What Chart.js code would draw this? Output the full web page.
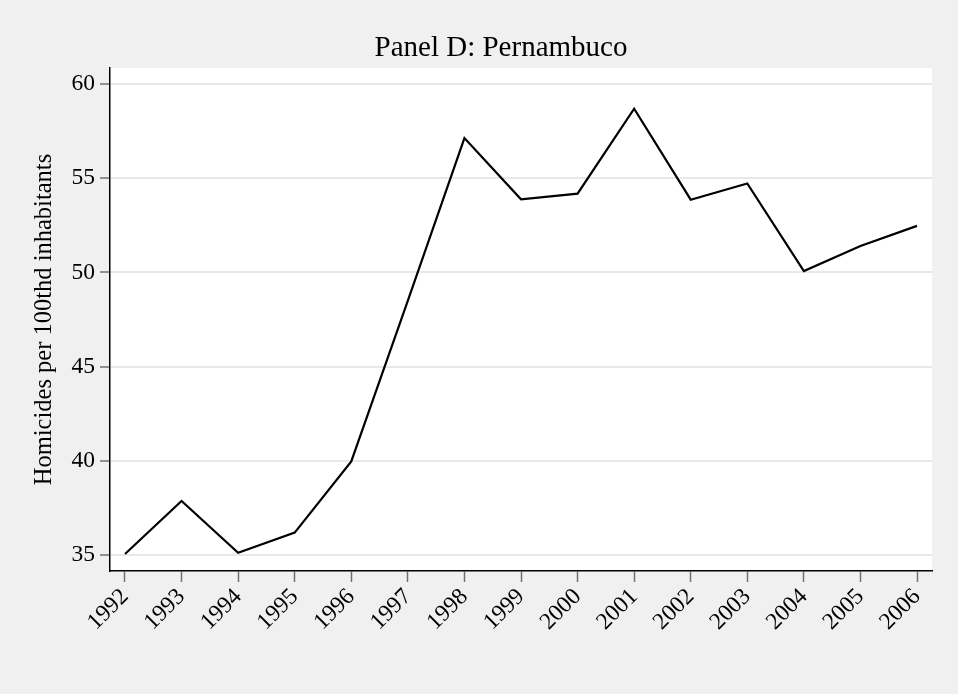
<!DOCTYPE html>
<html>
<head>
<meta charset="utf-8">
<script src="https://cdn.jsdelivr.net/npm/chart.js@4.4.0/dist/chart.umd.min.js"></script>
<style>
  html, body { margin: 0; padding: 0; background: #f0f0f0; }
  #wrap { width: 958px; height: 694px; }
</style>
</head>
<body>
<div id="wrap"><canvas id="chart"></canvas></div>
<script>
// data
const years = [1992, 1993, 1994, 1995, 1996, 1997, 1998, 1999, 2000, 2001, 2002, 2003, 2004, 2005, 2006];
const homicides = [35.05, 37.87, 35.12, 36.19, 39.97, 48.5, 57.13, 53.88, 54.18, 58.69, 53.86, 54.72, 50.07, 51.40, 52.47];
const yTicks = [35, 40, 45, 50, 55, 60];
const chartTitle = 'Panel D: Pernambuco';
const yTitle = 'Homicides per 100thd inhabitants';

const serif = '"Liberation Serif", "Times New Roman", serif';

// gray page, white plot region, title on top
const stataBg = {
    id: 'stataBg',
    beforeDraw(chart) {
        const ctx = chart.ctx;
        const a = chart.chartArea;
        ctx.save();
        ctx.fillStyle = '#f0f0f0';
        ctx.fillRect(0, 0, chart.width, chart.height);
        ctx.fillStyle = '#ffffff';
        ctx.fillRect(a.left, a.top, a.right - a.left, a.bottom - a.top);
        ctx.restore();
    },
    afterDraw(chart) {
        const ctx = chart.ctx;
        ctx.save();
        ctx.fillStyle = '#000';
        ctx.font = '29px ' + serif;
        ctx.textAlign = 'center';
        ctx.textBaseline = 'alphabetic';
        ctx.fillText(chartTitle, 501, 56);
        ctx.restore();
    }
};

new Chart(document.getElementById('chart'), {
    type: 'line',
    data: {
        datasets: [{
            label: 'Pernambuco',
            data: years.map((y, i) => ({ x: y, y: homicides[i] })),
            borderColor: '#000',
            borderWidth: 2.2,
            pointRadius: 0,
            tension: 0,
            fill: false
        }]
    },
    options: {
        responsive: true,
        maintainAspectRatio: false,
        animation: false,
        layout: { padding: { top: 68, right: 26, left: 0, bottom: 0 } },
        plugins: {
            legend: { display: false },
            tooltip: { enabled: false }
        },
        scales: {
            x: {
                type: 'linear',
                min: 1991.735,
                max: 2006.265,
                afterBuildTicks: s => { s.ticks = years.map(v => ({ value: v })); },
                afterFit: s => { s.height = 123; },
                border: { color: '#000', width: 1.5 },
                grid: { drawOnChartArea: false, tickColor: '#707070', tickLength: 11, tickWidth: 1.5 },
                ticks: {
                    color: '#000',
                    font: { family: serif, size: 23.5 },
                    minRotation: 45,
                    maxRotation: 45,
                    padding: 1,
                    callback: v => String(v)
                }
            },
            y: {
                min: 34.15,
                max: 60.85,
                afterBuildTicks: s => { s.ticks = yTicks.map(v => ({ value: v })); },
                afterFit: s => { s.width = 110; },
                border: { color: '#000', width: 1.5 },
                grid: { color: '#e8e8e8', lineWidth: 2, tickColor: '#707070', tickLength: 10, tickWidth: 1.5 },
                ticks: {
                    color: '#000',
                    font: { family: serif, size: 23.5 },
                    padding: 5
                },
                title: {
                    display: true,
                    text: yTitle,
                    color: '#000',
                    font: { family: serif, size: 24.5 },
                    padding: { top: 30, bottom: 0 }
                }
            }
        }
    },
    plugins: [stataBg]
});
</script>
</body>
</html>
